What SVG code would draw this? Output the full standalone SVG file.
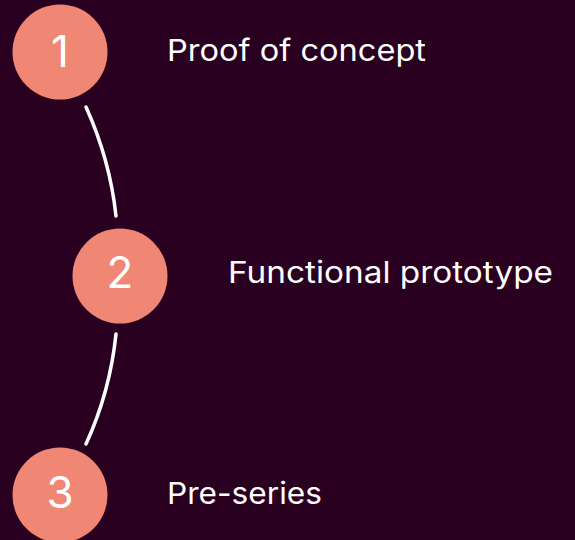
<svg xmlns="http://www.w3.org/2000/svg" width="575" height="540" viewBox="0 0 575 540">
<style>
.node circle{fill:#f08674}
.num{font-family:Inter,"Liberation Sans",sans-serif;font-size:44px;fill:#ffffff;text-anchor:middle}
.lbl{font-family:Inter,"Liberation Sans",sans-serif;font-size:30px;fill:#ffffff}
.conn path{fill:none;stroke:#ffffff;stroke-width:3.5;stroke-linecap:round}
</style>
<rect width="575" height="540" fill="#2a0020"/>
<g class="conn" id="connectors">
<path d="M86 107 Q110 160 116 216"/>
<path d="M116 334 Q110 392 86 444"/>
</g>
<g class="node" id="node1">
<circle cx="60" cy="52" r="47.5"/>
<text class="num" x="60" y="67">1</text>
<text class="lbl" x="167" y="61" textLength="259" lengthAdjust="spacingAndGlyphs">Proof of concept</text>
</g>
<g class="node" id="node2">
<circle cx="120" cy="276" r="47.5"/>
<text class="num" x="120" y="288">2</text>
<text class="lbl" x="228" y="283" textLength="325" lengthAdjust="spacingAndGlyphs">Functional prototype</text>
</g>
<g class="node" id="node3">
<circle cx="60" cy="495" r="47.5"/>
<text class="num" x="60" y="508">3</text>
<text class="lbl" x="167" y="504" textLength="155" lengthAdjust="spacingAndGlyphs">Pre-series</text>
</g>
</svg>
